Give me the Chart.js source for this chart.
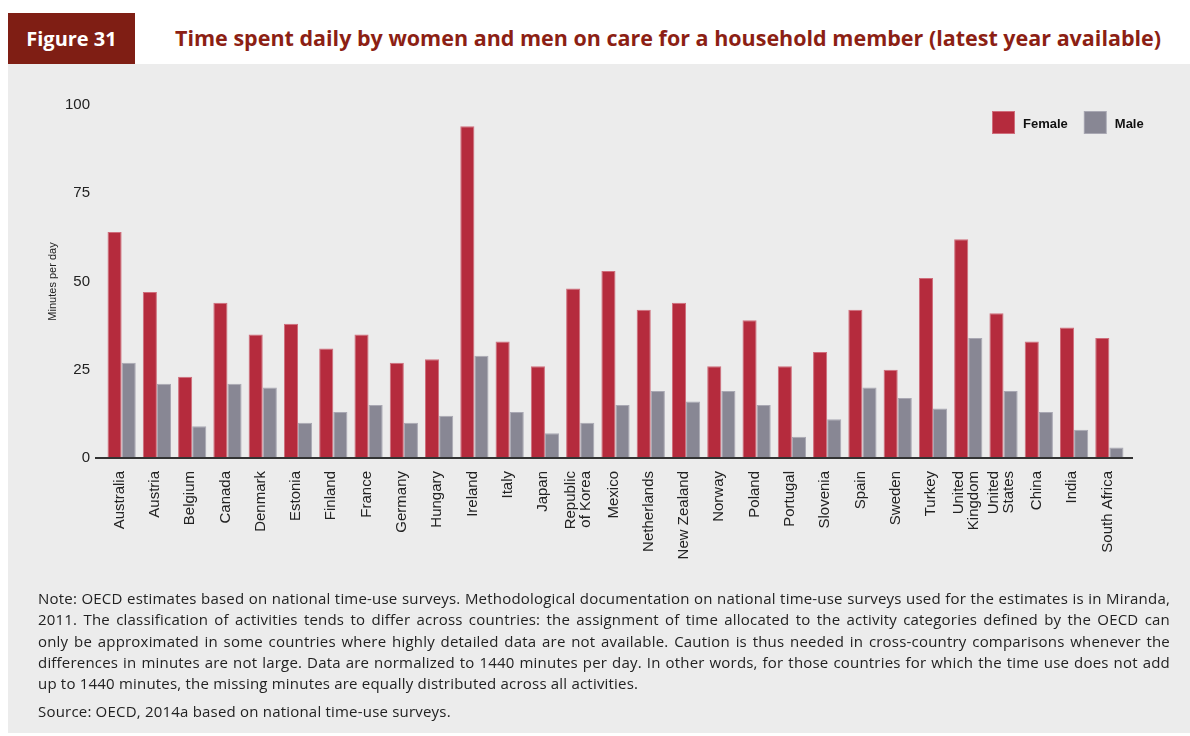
<!DOCTYPE html>
<html>
<head>
<meta charset="utf-8">
<script src="https://cdn.jsdelivr.net/npm/chart.js@4.4.1/dist/chart.umd.min.js"></script>
<style>
  html, body { margin: 0; padding: 0; background: #fff; }
  body { width: 1190px; height: 736px; position: relative; overflow: hidden; font-family: "Liberation Sans", Arial, sans-serif; }
  #panel { position: absolute; left: 8px; top: 64px; right: 0; height: 669px; background: #ececec; }
  #figbox { position: absolute; left: 8px; top: 13px; width: 127px; height: 51px; background: #7f1e14; color: #fff;
            font: 700 20px "Open Sans", sans-serif; line-height: 51px; text-align: center; }
  #title { position: absolute; left: 175px; top: 12px; color: #8c1f14; white-space: nowrap;
           font: 700 21.5px "Open Sans", sans-serif; line-height: 51px; }
  #wrap { position: absolute; left: 0; top: 0; width: 1190px; height: 590px; }
  #note { position: absolute; left: 38px; top: 588px; width: 1132px; font: 15px "Open Sans", sans-serif;
          letter-spacing: 0.2px; line-height: 21.3px; color: #222; }
  #note div.j { text-align: justify; text-align-last: justify; }
  #source { margin-top: 7px; }
</style>
</head>
<body>
<div id="panel"></div>
<div id="figbox">Figure 31</div>
<div id="title">Time spent daily by women and men on care for a household member (latest year available)</div>
<div id="wrap"><canvas id="chart" width="1190" height="590"></canvas></div>
<div id="note">
  <div class="j">Note: OECD estimates based on national time-use surveys. Methodological documentation on national time-use surveys used for the estimates is in Miranda,</div>
  <div class="j">2011. The classification of activities tends to differ across countries: the assignment of time allocated to the activity categories defined by the OECD can</div>
  <div class="j">only be approximated in some countries where highly detailed data are not available. Caution is thus needed in cross-country comparisons whenever the</div>
  <div class="j">differences in minutes are not large. Data are normalized to 1440 minutes per day. In other words, for those countries for which the time use does not add</div>
  <div>up to 1440 minutes, the missing minutes are equally distributed across all activities.</div>
  <div id="source">Source: OECD, 2014a based on national time-use surveys.</div>
</div>

<script>
const countries = ['Australia', 'Austria', 'Belgium', 'Canada', 'Denmark', 'Estonia', 'Finland', 'France',
  'Germany', 'Hungary', 'Ireland', 'Italy', 'Japan', ['Republic', 'of Korea'], 'Mexico', 'Netherlands',
  'New Zealand', 'Norway', 'Poland', 'Portugal', 'Slovenia', 'Spain', 'Sweden', 'Turkey',
  ['United', 'Kingdom'], ['United', 'States'], 'China', 'India', 'South Africa'];
const female = [64, 47, 23, 44, 35, 38, 31, 35, 27, 28, 94, 33, 26, 48, 53, 42,
  44, 26, 39, 26, 30, 42, 25, 51, 62, 41, 33, 37, 34];
const male = [27, 21, 9, 21, 20, 10, 13, 15, 10, 12, 29, 13, 7, 10, 15, 19,
  16, 19, 15, 6, 11, 20, 17, 14, 34, 19, 13, 8, 3];
const yTicks = [0, 25, 50, 75, 100];

const FONT = '"Liberation Sans", Arial, sans-serif';

// country names written bottom-to-top under each group
const verticalLabels = {
  id: 'verticalLabels',
  afterDraw(chart) {
    const { ctx, chartArea, scales: { x } } = chart;
    ctx.save();
    ctx.font = '15px ' + FONT;
    ctx.fillStyle = '#222';
    ctx.textAlign = 'right';
    ctx.textBaseline = 'middle';
    countries.forEach((c, i) => {
      const lines = Array.isArray(c) ? c : [c];
      const cx = x.getPixelForValue(i) - 2;
      lines.forEach((line, k) => {
        ctx.save();
        ctx.translate(cx + (k - (lines.length - 1) / 2) * 15, chartArea.bottom + 13);
        ctx.rotate(-Math.PI / 2);
        ctx.fillText(line, 0, 0);
        ctx.restore();
      });
    });
    // baseline
    ctx.strokeStyle = '#333';
    ctx.lineWidth = 2;
    ctx.beginPath();
    ctx.moveTo(chartArea.left - 9, chartArea.bottom);
    ctx.lineTo(chartArea.right + 6, chartArea.bottom);
    ctx.stroke();
    ctx.restore();
  }
};

const cornerLegend = {
  id: 'cornerLegend',
  afterDraw(chart) {
    const { ctx, chartArea } = chart;
    ctx.save();
    ctx.font = 'bold 13px ' + FONT;
    ctx.textBaseline = 'middle';
    let x = chartArea.right - 135;
    const y = chartArea.top + 6;
    chart.data.datasets.forEach(ds => {
      ctx.fillStyle = ds.borderColor;
      ctx.fillRect(x, y, 23, 23);
      ctx.fillStyle = ds.backgroundColor;
      ctx.fillRect(x + 1, y + 1, 21, 21);
      x += 31;
      ctx.fillStyle = '#111';
      ctx.fillText(ds.label, x, y + 13);
      x += ctx.measureText(ds.label).width + 16;
    });
    ctx.restore();
  }
};

new Chart(document.getElementById('chart'), {
  type: 'bar',
  data: {
    labels: countries,
    datasets: [
      { label: 'Female', data: female, backgroundColor: '#b52b3d', borderColor: '#cf6d7b', borderWidth: 1,
        categoryPercentage: 0.8, barPercentage: 1.0 },
      { label: 'Male', data: male, backgroundColor: '#888794', borderColor: '#a9a8b3', borderWidth: 1,
        categoryPercentage: 0.8, barPercentage: 1.0 }
    ]
  },
  options: {
    responsive: false,
    devicePixelRatio: 1,
    animation: false,
    layout: { padding: { top: 105, right: 63, bottom: 132, left: 0 } },
    plugins: { legend: { display: false }, tooltip: { enabled: false } },
    scales: {
      x: {
        grid: { display: false, drawTicks: false },
        border: { display: false },
        ticks: { display: false },
        afterFit: s => { s.height = 0; }
      },
      y: {
        min: 0,
        max: 100,
        afterBuildTicks: s => { s.ticks = yTicks.map(v => ({ value: v })); },
        afterFit: s => { s.width = 104; },
        grid: { display: false, drawTicks: false },
        border: { display: false },
        ticks: { padding: 14, color: '#222', font: { size: 15, family: FONT } },
        title: { display: true, text: 'Minutes per day', color: '#222', font: { size: 11, family: FONT },
                 padding: { top: 46, bottom: 0 } }
      }
    }
  },
  plugins: [verticalLabels, cornerLegend]
});
</script>
</body>
</html>
